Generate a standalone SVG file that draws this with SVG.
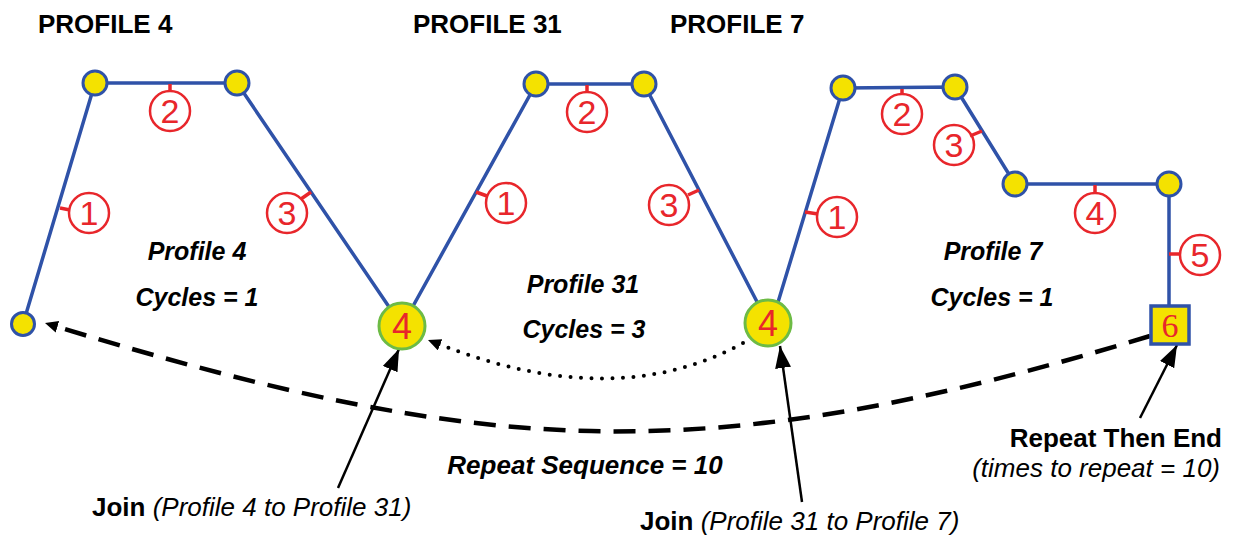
<svg xmlns="http://www.w3.org/2000/svg" width="1233" height="537" viewBox="0 0 1233 537">
<style>
.bg{fill:#ffffff}
.path{fill:none;stroke:#2F52A8;stroke-width:3.5;stroke-linejoin:round}
.node{fill:#F4E200;stroke:#2F52A8;stroke-width:3}
.join{fill:#F4E200;stroke:#6DBB45;stroke-width:3}
.end{fill:#F4E200;stroke:#2F52A8;stroke-width:3.5}
.lbl{fill:none;stroke:#E8262B;stroke-width:2.5}
.tick{stroke:#E8262B;stroke-width:3.5}
.num{font-family:"Liberation Sans",Arial,sans-serif;font-size:34px;fill:#E8262B;text-anchor:middle}
.big{font-family:"Liberation Sans",Arial,sans-serif;font-size:36px;fill:#E8262B;text-anchor:middle}
.six{font-family:"Liberation Serif","Times New Roman",serif;font-size:34px;fill:#E8262B;text-anchor:middle}
.title{font-family:"Liberation Sans",Arial,sans-serif;font-size:26px;font-weight:bold;fill:#000}
.bi{font-family:"Liberation Sans",Arial,sans-serif;font-size:25px;font-weight:bold;font-style:italic;fill:#000;text-anchor:middle}
.big2{font-size:26px}
.note{font-family:"Liberation Sans",Arial,sans-serif;font-size:26px;fill:#000}
.b{font-weight:bold}
.i{font-style:italic}
.dash{fill:none;stroke:#000;stroke-width:4.5;stroke-dasharray:22 13}
.dot{fill:none;stroke:#000;stroke-width:4;stroke-linecap:round;stroke-dasharray:0 10.5}
.arr{stroke:#000;stroke-width:2.5;fill:none}
</style>
<defs>
<marker id="head" markerUnits="userSpaceOnUse" markerWidth="24" markerHeight="18" refX="22" refY="8" orient="auto">
<path d="M0,0 L22,8 L0,16 z" fill="#000"/>
</marker>
<marker id="headS" markerUnits="userSpaceOnUse" markerWidth="16" markerHeight="14" refX="13" refY="6" orient="auto">
<path d="M0,0 L13,6 L0,12 z" fill="#000"/>
</marker>
</defs>
<rect class="bg" x="0" y="0" width="1233" height="537"/>

<g id="connectors">
<path class="dash" d="M1150,336 C706,471 489,458 58,327" />
<path d="M58,327 L45,323" stroke="none" fill="none" marker-end="url(#headS)"/>
<path class="dot" d="M743,343 Q614,414 436,343"/>
<path d="M438,344 L428,340" stroke="none" fill="none" marker-end="url(#headS)"/>
<line class="arr" x1="338" y1="488" x2="399" y2="349" marker-end="url(#head)"/>
<line class="arr" x1="802" y1="502" x2="780" y2="346" marker-end="url(#head)"/>
<line class="arr" x1="1140" y1="418" x2="1177" y2="345" marker-end="url(#head)"/>
</g>

<g id="profile4">
<polyline class="path" points="23,324 95,83 237,83 402,326"/>
<circle class="node" cx="23" cy="324" r="11.5"/>
<circle class="node" cx="95" cy="83" r="12"/>
<circle class="node" cx="237" cy="83" r="12"/>
<line class="tick" x1="60" y1="208" x2="70" y2="210"/>
<circle class="lbl" cx="89" cy="213" r="20"/>
<text class="num" x="89" y="225">1</text>
<line class="tick" x1="170" y1="84" x2="170" y2="92"/>
<circle class="lbl" cx="170" cy="111" r="20"/>
<text class="num" x="170" y="123">2</text>
<line class="tick" x1="301" y1="199" x2="311" y2="192"/>
<circle class="lbl" cx="287" cy="213" r="20"/>
<text class="num" x="287" y="225">3</text>
<text class="bi" x="197" y="260">Profile 4</text>
<text class="bi" x="197" y="306">Cycles = 1</text>
</g>

<g id="profile31">
<polyline class="path" points="402,326 536,84 644,84 768,323"/>
<circle class="node" cx="536" cy="84" r="12"/>
<circle class="node" cx="644" cy="84" r="12"/>
<line class="tick" x1="476" y1="192" x2="487" y2="196"/>
<circle class="lbl" cx="506" cy="203" r="20"/>
<text class="num" x="506" y="215">1</text>
<line class="tick" x1="587" y1="85" x2="587" y2="92"/>
<circle class="lbl" cx="587" cy="112" r="20"/>
<text class="num" x="587" y="124">2</text>
<line class="tick" x1="688" y1="195" x2="699" y2="190"/>
<circle class="lbl" cx="669" cy="205" r="20"/>
<text class="num" x="669" y="217">3</text>
<text class="bi" x="583" y="293">Profile 31</text>
<text class="bi" x="584" y="338">Cycles = 3</text>
</g>

<g id="profile7">
<polyline class="path" points="772,322 843,88 955,87 1015,184 1169,184 1169,326"/>
<circle class="node" cx="843" cy="88" r="12"/>
<circle class="node" cx="955" cy="87" r="12"/>
<circle class="node" cx="1015" cy="184" r="12"/>
<circle class="node" cx="1169" cy="184" r="12"/>
<line class="tick" x1="805" y1="212" x2="818" y2="214"/>
<circle class="lbl" cx="837" cy="217" r="20"/>
<text class="num" x="837" y="229">1</text>
<line class="tick" x1="902" y1="89" x2="902" y2="94"/>
<circle class="lbl" cx="902" cy="114" r="20"/>
<text class="num" x="902" y="126">2</text>
<line class="tick" x1="970" y1="136" x2="982" y2="131"/>
<circle class="lbl" cx="954" cy="145" r="20"/>
<text class="num" x="954" y="157">3</text>
<line class="tick" x1="1095" y1="185" x2="1095" y2="193"/>
<circle class="lbl" cx="1095" cy="213" r="20"/>
<text class="num" x="1095" y="225">4</text>
<line class="tick" x1="1169" y1="254" x2="1180" y2="254"/>
<circle class="lbl" cx="1200" cy="255" r="20"/>
<text class="num" x="1200" y="267">5</text>
<text class="bi" x="993" y="260">Profile 7</text>
<text class="bi" x="992" y="306">Cycles = 1</text>
</g>

<g id="join1">
<circle class="join" cx="402" cy="326" r="23"/>
<text class="big" x="402" y="339">4</text>
</g>
<g id="join2">
<circle class="join" cx="768" cy="323" r="23"/>
<text class="big" x="768" y="336">4</text>
</g>
<g id="end6">
<rect class="end" x="1151" y="306" width="38" height="38"/>
<text class="six" x="1170" y="337">6</text>
</g>

<g id="titles">
<text class="title" x="38" y="33">PROFILE 4</text>
<text class="title" x="413" y="33">PROFILE 31</text>
<text class="title" x="670" y="33">PROFILE 7</text>
</g>

<g id="notes">
<text class="bi big2" x="585" y="474">Repeat Sequence = 10</text>
<text class="note" x="92" y="516"><tspan class="b">Join</tspan> <tspan class="i">(Profile 4 to Profile 31)</tspan></text>
<text class="note" x="640" y="530"><tspan class="b">Join</tspan> <tspan class="i">(Profile 31 to Profile 7)</tspan></text>
<text class="note b" x="1222" y="447" text-anchor="end">Repeat Then End</text>
<text class="note i" x="1220" y="477" text-anchor="end">(times to repeat = 10)</text>
</g>
</svg>
